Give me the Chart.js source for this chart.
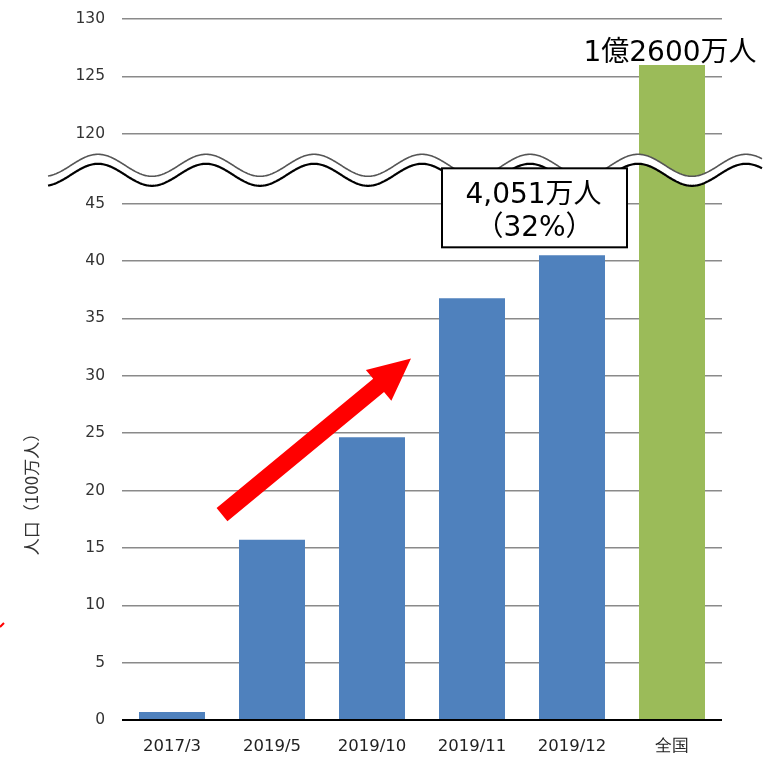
<!DOCTYPE html>
<html lang="ja">
<head>
  <meta charset="UTF-8">
  <title>人口の推移</title>
  <script src="https://cdn.jsdelivr.net/npm/chart.js"></script>
  <style>
    body { margin: 0; background: #fff; }
    #wrap { position: absolute; left: 0; top: 0; width: 771px; height: 758px; }
  </style>
</head>
<body>
  <div id="wrap"><canvas id="myChart" width="771" height="758"></canvas></div>
  <script>
    // データ（単位：100万人）
    const categories = ['2017/3', '2019/5', '2019/10', '2019/11', '2019/12', '全国'];
    const population = [0.7, 15.7, 24.65, 36.75, 40.51, 126];
    const barColors = ['#4F81BD', '#4F81BD', '#4F81BD', '#4F81BD', '#4F81BD', '#9BBB59'];
    const lowTicks = [0, 5, 10, 15, 20, 25, 30, 35, 40, 45];
    const highTicks = [120, 125, 130];

    // 軸の省略（45 と 120 の間を詰める）
    const BREAK_FROM = 120;   // ここから上は上段
    const BREAK_AT = 51.1;    // 120 を描く軸上の位置
    const toAxis = v => v >= BREAK_FROM ? v - BREAK_FROM + BREAK_AT : v;
    const fromAxis = v => v >= BREAK_AT - 0.01 ? Math.round(v - BREAK_AT + BREAK_FROM) : Math.round(v);
    const axisTicks = lowTicks.concat(highTicks).map(toAxis);

    const labelFont = '"DejaVu Sans", "Noto Sans CJK JP"';

    // 波線・矢印・注記
    const decorations = {
      id: 'decorations',
      afterDatasetsDraw(chart) {
        const c = chart.ctx;
        const x = chart.scales.x, y = chart.scales.y;
        const meta = chart.getDatasetMeta(0);

        // 省略の波線
        const mid = y.getPixelForValue(48.0);
        const period = 108, amp = 11, gap = 9.5, x0 = 48, x1 = 762, phase = 98;
        const wave = (px, off) => mid - 4 + off - amp * Math.cos(2 * Math.PI * (px - phase) / period);
        c.save();
        c.beginPath();
        for (let px = x0; px <= x1; px++) c.lineTo(px, wave(px, 0));
        for (let px = x1; px >= x0; px--) c.lineTo(px, wave(px, gap));
        c.closePath();
        c.fillStyle = '#fff';
        c.fill();
        c.lineWidth = 1.6;
        c.strokeStyle = '#555';
        c.beginPath();
        for (let px = x0; px <= x1; px++) c.lineTo(px, wave(px, 0));
        c.stroke();
        c.lineWidth = 2.2;
        c.strokeStyle = '#000';
        c.beginPath();
        for (let px = x0; px <= x1; px++) c.lineTo(px, wave(px, gap));
        c.stroke();
        c.restore();

        // 赤い矢印
        const step = x.getPixelForValue(1) - x.getPixelForValue(0);
        const ax = i => x.getPixelForValue(0) + i * step;
        const tx = ax(0.5), ty = y.getPixelForValue(17.9);
        const hx = ax(2.39), hy = y.getPixelForValue(31.5);
        const ang = Math.atan2(hy - ty, hx - tx);
        const len = Math.hypot(hx - tx, hy - ty);
        const shaftW = 17, headW = 40, headL = 42;
        c.save();
        c.translate(tx, ty);
        c.rotate(ang);
        c.beginPath();
        c.moveTo(0, -shaftW / 2);
        c.lineTo(len - headL, -shaftW / 2);
        c.lineTo(len - headL, -headW / 2);
        c.lineTo(len, 0);
        c.lineTo(len - headL, headW / 2);
        c.lineTo(len - headL, shaftW / 2);
        c.lineTo(0, shaftW / 2);
        c.closePath();
        c.fillStyle = '#FF0000';
        c.fill();
        c.restore();
        // 左端の小さな赤い印
        c.save();
        c.strokeStyle = '#FF0000';
        c.lineWidth = 2;
        c.beginPath();
        c.moveTo(0, 627);
        c.lineTo(4, 623);
        c.stroke();
        c.restore();

        // 全国の注記
        const gBar = meta.data[5];
        c.save();
        c.fillStyle = '#000';
        c.font = '28px ' + labelFont;
        c.textAlign = 'center';
        c.textBaseline = 'alphabetic';
        c.fillText('1億2600万人', gBar.x - 2, gBar.y - 4);
        c.restore();

        // 2019/12 の注記ボックス
        const bBar = meta.data[4];
        const bx = bBar.x - 130, bw = 185, bh = 79;
        const by = y.getPixelForValue(41.2) - bh;
        c.save();
        c.fillStyle = '#fff';
        c.fillRect(bx, by, bw, bh);
        c.lineWidth = 2;
        c.strokeStyle = '#000';
        c.strokeRect(bx, by, bw, bh);
        c.fillStyle = '#000';
        c.font = '28px ' + labelFont;
        c.textAlign = 'center';
        c.textBaseline = 'middle';
        c.fillText('4,051万人', bx + bw / 2 - 1, by + 27);
        c.fillText('（32%）', bx + bw / 2, by + 60);
        c.restore();

        // 縦軸タイトル
        c.save();
        c.translate(32, 490);
        c.rotate(-Math.PI / 2);
        c.fillStyle = '#333';
        c.font = '17px "Noto Sans CJK JP"';
        c.textAlign = 'center';
        c.textBaseline = 'middle';
        c.fillText('人口（100万人）', 0, 0);
        c.restore();
      }
    };

    const ctx = document.getElementById('myChart').getContext('2d');
    const chart = new Chart(ctx, {
      type: 'bar',
      data: {
        labels: categories,
        datasets: [{
          data: population.map(toAxis),
          backgroundColor: barColors,
          borderWidth: 0,
          categoryPercentage: 1,
          barPercentage: 0.66
        }]
      },
      options: {
        responsive: false,
        animation: false,
        layout: { padding: { left: 0, right: 49, top: 19, bottom: 0 } },
        plugins: {
          legend: { display: false },
          tooltip: { enabled: false }
        },
        scales: {
          x: {
            grid: { display: false },
            border: { display: false },
            ticks: {
              color: '#222',
              font: { family: 'DejaVu Sans', size: 16.5 },
              padding: 9,
              maxRotation: 0
            },
            afterFit(scale) { scale.height = 38; }
          },
          y: {
            min: 0,
            max: toAxis(130),
            afterBuildTicks(scale) {
              scale.ticks = axisTicks.map(v => ({ value: v }));
            },
            ticks: {
              color: '#333',
              font: { family: 'DejaVu Sans', size: 15.5 },
              padding: 17,
              callback: v => fromAxis(v)
            },
            grid: {
              drawTicks: false,
              color: c => c.tick && c.tick.value === 0 ? '#000' : '#8a8a8a',
              lineWidth: c => c.tick && c.tick.value === 0 ? 2 : 1.5
            },
            border: { display: false },
            afterFit(scale) {
              scale.width = 122;
              scale.paddingTop = 0;
              scale.paddingBottom = 0;
            }
          }
        }
      },
      plugins: [decorations]
    });
  </script>
</body>
</html>
